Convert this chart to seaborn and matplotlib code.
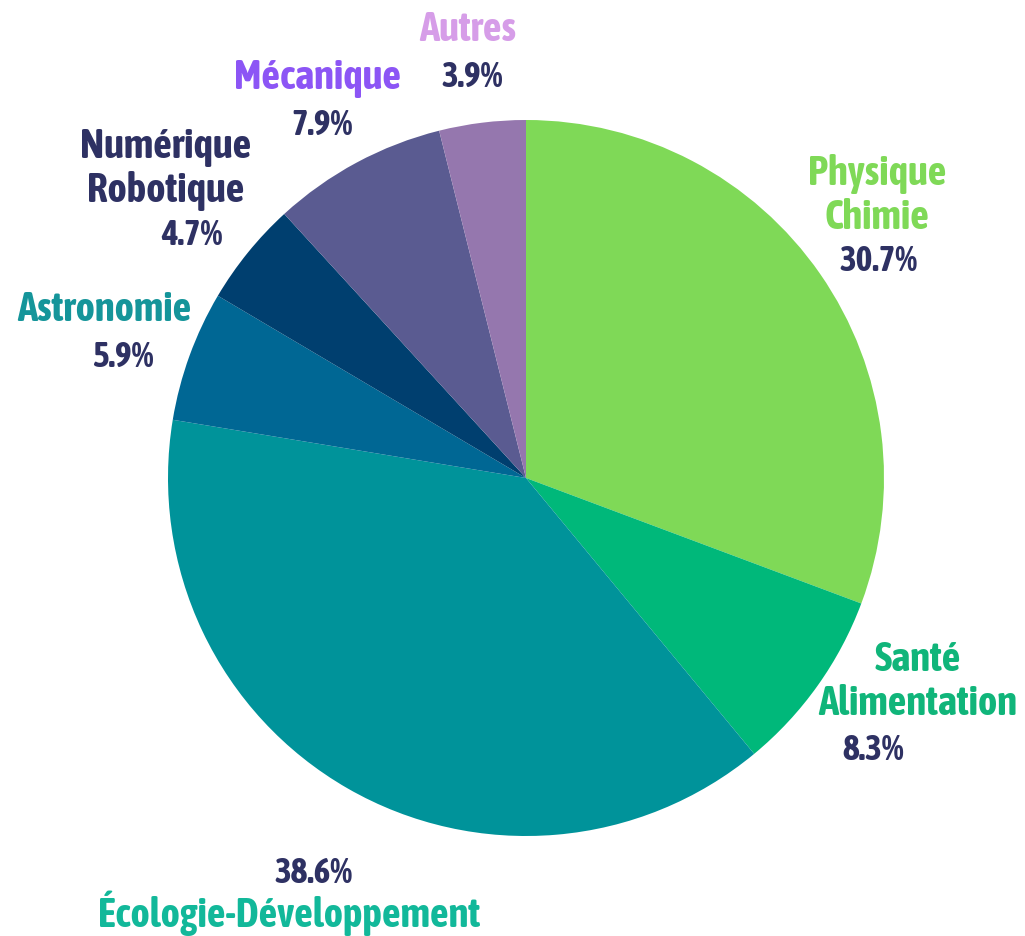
import matplotlib
matplotlib.use("Agg")
import matplotlib.pyplot as plt
import seaborn as sns

categories = ["Physique\nChimie", "Santé\nAlimentation", "Écologie-Développement",
              "Astronomie", "Numérique\nRobotique", "Mécanique", "Autres"]
shares = [30.7, 8.3, 38.6, 5.9, 4.7, 7.9, 3.9]
slice_colors = ["#7fd957", "#00b87a", "#00939a", "#006794", "#003f6f", "#5a5b91", "#9577ae"]
label_colors = ["#7fd957", "#10b57a", "#12b89a", "#15959a", "#2e3163", "#8c55f5", "#d69de8"]
pct_color = "#2e3163"

# label / percentage anchor positions in pixels (centre of text)
label_pos = [(877, 196), (918, 682), (289, 913), (104, 310), (166, 169), (318, 78), (468, 30)]
pct_pos = [(878, 261), (873, 750), (313, 873), (123, 357), (192, 235), (322, 125), (472, 77)]

sns.set_theme(style="white")
plt.rcParams["font.family"] = ["Asap Condensed", "DejaVu Sans"]

W, H = 1025, 937
cx, cy, R = 526, 479, 358
fig = plt.figure(figsize=(W / 100, H / 100), dpi=100)
ax = fig.add_axes([0, 0, 1, 1])
ax.pie(shares, colors=slice_colors, startangle=90, counterclock=False,
       radius=1, center=(0, 0), wedgeprops=dict(linewidth=0))
ax.set_xlim(-cx / R, (W - cx) / R)
ax.set_ylim(-(H - cy) / R, cy / R)
ax.set_aspect("equal")
ax.axis("off")


def to_data(p):
    return ((p[0] - cx) / R, (cy - p[1]) / R)


for name, val, col, lp, pp in zip(categories, shares, label_colors, label_pos, pct_pos):
    x, y = to_data(lp)
    ax.text(x, y, name, color=col, fontsize=29.5, fontweight="bold",
            ha="center", va="center", linespacing=1.12)
    x, y = to_data(pp)
    ax.text(x, y, f"{val:.1f}%", color=pct_color, fontsize=25.5, fontweight="bold",
            ha="center", va="center")

fig.savefig("out.png", dpi=100, facecolor="white")
